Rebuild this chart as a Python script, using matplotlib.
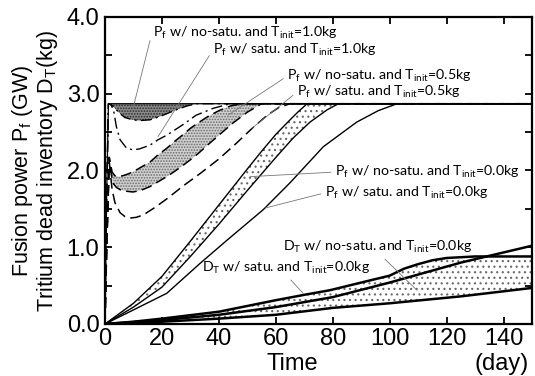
import numpy as np
import matplotlib
matplotlib.use('Agg')
import matplotlib.pyplot as plt
from matplotlib.ticker import MultipleLocator

plt.rcParams['font.family'] = ['Liberation Sans', 'DejaVu Sans']
plt.rcParams['hatch.linewidth'] = 0.8

# ---- data (time in days) ----
# P_f, T_init = 1.0 kg
t_ns10_top = [0, 0.5, 1.2, 150]
p_ns10_top = [0, 1.5, 2.87, 2.87]
t_ns10_bot = [0, 0.5, 1.2, 2, 3, 4, 5.3, 7, 9.8, 12, 15.8, 19, 21.7, 25, 28.7, 32, 150]
p_ns10_bot = [0, 1.5, 2.87, 2.86, 2.83, 2.79, 2.74, 2.69, 2.66, 2.65, 2.66, 2.70, 2.74, 2.79, 2.84, 2.87, 2.87]
t_s10 = [0, 0.5, 1.2, 2, 3, 4, 5.3, 7.6, 9.8, 12, 15.8, 18.6, 21.7, 27.5, 32, 38, 44, 150]
p_s10 = [0, 1.5, 2.87, 2.86, 2.79, 2.57, 2.40, 2.29, 2.27, 2.28, 2.33, 2.40, 2.46, 2.60, 2.72, 2.81, 2.87, 2.87]

# P_f, T_init = 0.5 kg
t_ns05_top = [0, 0.6, 1.5, 2.5, 3.5, 5, 7, 9.8, 12.5, 15.8, 18.5, 21.7, 24.5, 27.5, 30, 32.3, 36, 40, 44, 48, 150]
p_ns05_top = [0, 1.0, 2.17, 1.98, 1.93, 1.92, 1.94, 1.98, 2.04, 2.11, 2.20, 2.29, 2.38, 2.47, 2.55, 2.61, 2.70, 2.78, 2.84, 2.87, 2.87]
t_ns05_bot = [0, 0.6, 1.5, 2.2, 2.9, 4, 5.3, 7.5, 9.8, 12.5, 15.8, 18.5, 21.7, 24.5, 27.5, 30, 32.7, 36, 40, 45, 50, 55, 150]
p_ns05_bot = [0, 1.0, 2.17, 1.95, 1.83, 1.78, 1.75, 1.73, 1.72, 1.74, 1.79, 1.85, 1.92, 1.99, 2.07, 2.14, 2.22, 2.33, 2.46, 2.62, 2.76, 2.87, 2.87]
t_s05 = [0, 0.6, 1.5, 2.5, 3.5, 5.3, 7, 8.8, 11, 13.4, 17.6, 21.7, 27.5, 33.4, 40, 46, 52, 57, 61, 65, 150]
p_s05 = [0, 1.0, 2.1, 1.75, 1.58, 1.45, 1.40, 1.38, 1.39, 1.42, 1.52, 1.63, 1.80, 1.96, 2.15, 2.35, 2.56, 2.72, 2.82, 2.87, 2.87]

# P_f, T_init = 0.0 kg
t_ns00_top = [0, 10, 20, 30, 40, 50, 55, 60, 65, 68, 71, 150]
p_ns00_top = [0, 0.27, 0.62, 1.08, 1.55, 2.02, 2.25, 2.47, 2.66, 2.77, 2.87, 2.87]
t_ns00_bot = [0, 10, 20, 30, 40, 50, 60, 66, 72, 78, 82, 150]
p_ns00_bot = [0, 0.22, 0.48, 0.88, 1.30, 1.74, 2.17, 2.42, 2.63, 2.79, 2.87, 2.87]
t_s00 = [0, 9.8, 21.7, 33.4, 42.8, 55.6, 65, 76.7, 88.4, 96, 102.6, 150]
p_s00 = [0, 0.18, 0.40, 0.79, 1.09, 1.49, 1.84, 2.31, 2.63, 2.78, 2.87, 2.87]

# D_T, T_init = 0.0 kg
t_dt_a = [0, 20, 40, 60, 80, 100, 125, 150]
d_dt_a = [0, 0.05, 0.12, 0.22, 0.35, 0.54, 0.80, 1.02]
t_dt_b = [0, 10, 20, 40, 60, 70, 79, 90, 100, 105, 110, 115, 120, 130, 150]
d_dt_b = [0, 0.03, 0.07, 0.16, 0.31, 0.38, 0.44, 0.54, 0.63, 0.72, 0.78, 0.83, 0.86, 0.88, 0.88]
t_dt_c = [0, 20, 40, 60, 80, 100, 125, 150]
d_dt_c = [0, 0.03, 0.07, 0.12, 0.21, 0.27, 0.36, 0.47]


def band(ax, t1, y1, t2, y2, **kw):
    # closed polygon: upper curve forward, lower curve back
    xs = np.concatenate([t1, t2[::-1]])
    ys = np.concatenate([y1, y2[::-1]])
    ax.fill(xs, ys, linewidth=0, zorder=1, **kw)


fig = plt.figure(figsize=(5.35, 3.76), dpi=100)
ax = fig.add_axes([105 / 535, 52 / 376, 427 / 535, 307 / 376])

# shaded bands
band(ax, np.array(t_ns10_top), np.array(p_ns10_top), np.array(t_ns10_bot), np.array(p_ns10_bot),
     facecolor='#8a8a8a', edgecolor='#2a2a2a', hatch='......')
band(ax, np.array(t_ns05_top), np.array(p_ns05_top), np.array(t_ns05_bot), np.array(p_ns05_bot),
     facecolor='#cfcfcf', edgecolor='#6a6a6a', hatch='......')
band(ax, np.array(t_ns00_top), np.array(p_ns00_top), np.array(t_ns00_bot), np.array(p_ns00_bot),
     facecolor='white', edgecolor='#666666', hatch='...')
band(ax, np.array(t_dt_b), np.array(d_dt_b), np.array(t_dt_c), np.array(d_dt_c),
     facecolor='white', edgecolor='#666666', hatch='...')

dashdot = (0, (8, 3, 1.5, 3))
dashed = (0, (7, 3.5))
k = 'black'
ax.plot(t_ns10_top, p_ns10_top, color=k, lw=0.9, zorder=3)
ax.plot(t_ns10_bot, p_ns10_bot, color=k, lw=1.0, ls=dashdot, zorder=3)
ax.plot(t_s10, p_s10, color=k, lw=1.0, ls=dashdot, zorder=3)
ax.plot(t_ns05_top, p_ns05_top, color=k, lw=1.1, ls=dashed, zorder=3)
ax.plot(t_ns05_bot, p_ns05_bot, color=k, lw=1.1, ls=dashed, zorder=3)
ax.plot(t_s05, p_s05, color=k, lw=1.1, ls=dashed, zorder=3)
ax.plot(t_ns00_top, p_ns00_top, color=k, lw=1.0, zorder=3)
ax.plot(t_ns00_bot, p_ns00_bot, color=k, lw=1.0, zorder=3)
ax.plot(t_s00, p_s00, color=k, lw=1.0, zorder=3)
ax.plot(t_dt_a, d_dt_a, color=k, lw=1.8, zorder=3)
ax.plot(t_dt_b, d_dt_b, color=k, lw=1.8, zorder=3)
ax.plot(t_dt_c, d_dt_c, color=k, lw=1.8, zorder=3)

ax.set_xlim(0, 150)
ax.set_ylim(0, 4.0)
ax.xaxis.set_major_locator(MultipleLocator(20))
ax.yaxis.set_major_locator(MultipleLocator(1.0))
ax.yaxis.set_minor_locator(MultipleLocator(0.5))
ax.yaxis.set_major_formatter(matplotlib.ticker.FormatStrFormatter('%.1f'))
ax.tick_params(which='both', direction='in', top=True, right=True, width=1.3, labelsize=17)
ax.tick_params(which='both', length=5)
ax.tick_params(axis='x', pad=3)
ax.tick_params(axis='y', pad=4)
for s in ax.spines.values():
    s.set_linewidth(1.6)

# annotations
note = dict(fontsize=10.2, family=['Lato', 'DejaVu Sans'], va='center', ha='left')
line = dict(arrowstyle='-', color='#777777', lw=0.6, shrinkA=1, shrinkB=0)
ax.annotate(r'P$_\mathregular{f}$ w/ no-satu. and T$_\mathregular{init}$=1.0kg', xy=(9.5, 2.76),
            xytext=(16.9, 3.79), arrowprops=dict(line, relpos=(0, 0.8)), **note)
ax.annotate(r'P$_\mathregular{f}$ w/ satu. and T$_\mathregular{init}$=1.0kg', xy=(18.6, 2.44),
            xytext=(37.9, 3.57), arrowprops=dict(line, relpos=(0, 0.5)), **note)
ax.annotate(r'P$_\mathregular{f}$ w/ no-satu. and T$_\mathregular{init}$=0.5kg', xy=(43.2, 2.72),
            xytext=(64.0, 3.23), arrowprops=dict(line, relpos=(0, 0.5)), **note)
ax.annotate(r'P$_\mathregular{f}$ w/ satu. and T$_\mathregular{init}$=0.5kg', xy=(51.6, 2.55),
            xytext=(67.4, 3.02), arrowprops=dict(line, relpos=(0, 0.5)), **note)
ax.annotate(r'P$_\mathregular{f}$ w/ no-satu. and T$_\mathregular{init}$=0.0kg', xy=(51.0, 1.92),
            xytext=(80.8, 1.98), arrowprops=dict(line, relpos=(0, 0.5)), **note)
ax.annotate(r'P$_\mathregular{f}$ w/ satu. and T$_\mathregular{init}$=0.0kg', xy=(56.2, 1.51),
            xytext=(77.3, 1.71), arrowprops=dict(line, relpos=(0, 0.5)), **note)
ax.annotate(r'D$_\mathregular{T}$ w/ no-satu. and T$_\mathregular{init}$=0.0kg', xy=(109.6, 0.44),
            xytext=(62.5, 1.0), arrowprops=dict(line, relpos=(0.51, 0.1)), **note)
ax.annotate(r'D$_\mathregular{T}$ w/ satu. and T$_\mathregular{init}$=0.0kg', xy=(69.6, 0.40),
            xytext=(34.0, 0.73), arrowprops=dict(line, relpos=(0.5, 0.1)), **note)

fig.text(35 / 535, 1 - 171 / 376,
         'Fusion power P$_\\mathregular{f}$ (GW)\nTritium dead inventory D$_\\mathregular{T}$(kg)',
         rotation=90, ha='center', va='center', multialignment='center', fontsize=15.5,
         linespacing=0.95)
fig.text(292 / 535, 1 - 364 / 376, 'Time', ha='center', va='center', fontsize=17)
fig.text(502 / 535, 1 - 364 / 376, '(day)', ha='center', va='center', fontsize=17)

fig.savefig('out.png', dpi=100)
